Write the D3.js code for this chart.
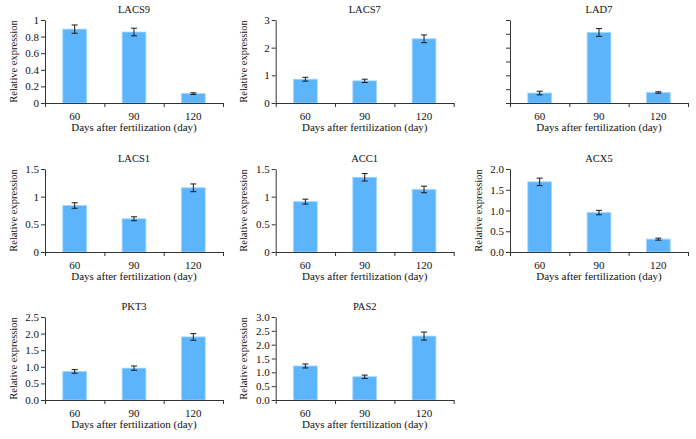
<!DOCTYPE html>
<html>
<head>
<meta charset="utf-8">
<script src="https://cdn.jsdelivr.net/npm/d3@7"></script>
<style>
  body { margin: 0; background: #fff; }
  svg { display: block; }
</style>
</head>
<body>
<div id="chart"></div>
<script>
var FONT = 'Liberation Serif';
var W = 696, H = 439;

// data
var genes = ['LACS9', 'LACS7', 'LAD7', 'LACS1', 'ACC1', 'ACX5', 'PKT3', 'PAS2'];
var days = ['60', '90', '120'];
var means = [
  [0.89, 0.855, 0.113],
  [0.86, 0.80, 2.32],
  [0.36, 2.55, 0.38],
  [0.84, 0.60, 1.16],
  [0.91, 1.35, 1.13],
  [1.69, 0.95, 0.31],
  [0.86, 0.96, 1.90],
  [1.23, 0.84, 2.31]
];
var errors = [
  [0.05, 0.046, 0.01],
  [0.07, 0.06, 0.14],
  [0.065, 0.14, 0.025],
  [0.05, 0.036, 0.07],
  [0.045, 0.067, 0.06],
  [0.09, 0.053, 0.024],
  [0.055, 0.065, 0.1],
  [0.072, 0.06, 0.145]
];
var yTicks = [
  [0, 0.2, 0.4, 0.6, 0.8, 1],
  [0, 1, 2, 3],
  [0, 0.5, 1, 1.5, 2, 2.5, 3],
  [0, 0.5, 1, 1.5],
  [0, 0.5, 1, 1.5],
  [0, 0.5, 1, 1.5, 2],
  [0, 0.5, 1, 1.5, 2, 2.5],
  [0, 0.5, 1, 1.5, 2, 2.5, 3]
];
var yTickLabels = [
  ['0', '0.2', '0.4', '0.6', '0.8', '1'],
  ['0', '1', '2', '3'],
  ['', '', '', '', '', '', ''],
  ['0', '0.5', '1', '1.5'],
  ['0', '0.5', '1', '1.5'],
  ['0.0', '0.5', '1.0', '1.5', '2.0'],
  ['0.0', '0.5', '1.0', '1.5', '2.0', '2.5'],
  ['0.0', '0.5', '1.0', '1.5', '2.0', '2.5', '3.0']
];
var yTitles = ['Relative expression', 'Relative expression', '', 'Relative expression',
  'Relative expression', 'Relative expression', 'Relative expression', 'Relative expression'];
var xTitle = 'Days after fertilization (day)';

// layout
var COLS = [45, 275.7, 510];
var ROWS = [20, 169, 317];
var PW = 178, PH = 83;
var BAR = '#5cb4fd';

var svg = d3.select('#chart').append('svg').attr('width', W).attr('height', H)
  .style('font-family', FONT);

function drawPanel(i) {
  var g = svg.append('g')
    .attr('transform', 'translate(' + COLS[i % 3] + ',' + ROWS[Math.floor(i / 3)] + ')');
  var ticks = yTicks[i];
  var y = d3.scaleLinear().domain([0, ticks[ticks.length - 1]]).range([PH, 0]);
  var x = d3.scaleBand().domain(days).range([0, PW]).paddingInner(0.6).paddingOuter(0.3);
  var xEdge = d3.scaleLinear().domain([0, days.length]).range([0, PW]);

  var rows = days.map(function (d, j) { return { day: d, v: means[i][j], e: errors[i][j] }; });

  g.selectAll('rect.bar').data(rows).enter().append('rect')
    .attr('class', 'bar')
    .attr('x', function (d) { return x(d.day); })
    .attr('width', x.bandwidth())
    .attr('y', function (d) { return y(d.v); })
    .attr('height', function (d) { return PH - y(d.v); })
    .attr('fill', BAR)
    .attr('stroke', '#9fd6ff').attr('stroke-width', 0.8);

  var eb = g.selectAll('g.err').data(rows).enter().append('g')
    .attr('class', 'err')
    .attr('transform', function (d) { return 'translate(' + (x(d.day) + x.bandwidth() / 2) + ',0)'; })
    .attr('stroke', '#1a1a1a').attr('stroke-width', 1);
  eb.append('line').attr('x1', 0).attr('x2', 0)
    .attr('y1', function (d) { return y(d.v + d.e); })
    .attr('y2', function (d) { return y(d.v - d.e); });
  eb.append('line').attr('x1', -3).attr('x2', 3)
    .attr('y1', function (d) { return y(d.v + d.e); })
    .attr('y2', function (d) { return y(d.v + d.e); });
  eb.append('line').attr('x1', -3).attr('x2', 3)
    .attr('y1', function (d) { return y(d.v - d.e); })
    .attr('y2', function (d) { return y(d.v - d.e); });

  // y axis
  var ya = g.append('g').call(d3.axisLeft(y).tickValues(ticks)
    .tickFormat(function (d, k) { return yTickLabels[i][k]; })
    .tickSize(4).tickSizeOuter(0).tickPadding(2));
  // x axis: ticks at band edges, labels at band centres
  var xa = g.append('g').attr('transform', 'translate(0,' + PH + ')')
    .call(d3.axisBottom(xEdge).tickValues(d3.range(days.length + 1)).tickFormat('')
      .tickSize(4).tickSizeOuter(0));
  var xl = g.append('g').attr('transform', 'translate(0,' + PH + ')')
    .call(d3.axisBottom(x).tickSize(0).tickPadding(9));
  xl.select('.domain').remove();

  [ya, xa, xl].forEach(function (a) {
    a.selectAll('path, line').attr('stroke', '#333');
    a.selectAll('text').attr('fill', '#111').style('font-family', FONT).style('font-size', '11px');
  });

  g.append('text').attr('x', PW / 2).attr('y', -7.5).attr('text-anchor', 'middle')
    .attr('fill', '#111').style('font-size', '10.5px').text(genes[i]);
  g.append('text').attr('x', PW / 2).attr('y', PH + 27.5).attr('text-anchor', 'middle')
    .attr('fill', '#111').style('font-size', '11px').text(xTitle);
  g.append('text').attr('transform', 'translate(-28.5,' + PH / 2 + ') rotate(-90)')
    .attr('text-anchor', 'middle').attr('fill', '#111').style('font-size', '10.5px')
    .text(yTitles[i]);
}

genes.forEach(function (gname, i) { drawPanel(i); });
</script>
</body>
</html>
